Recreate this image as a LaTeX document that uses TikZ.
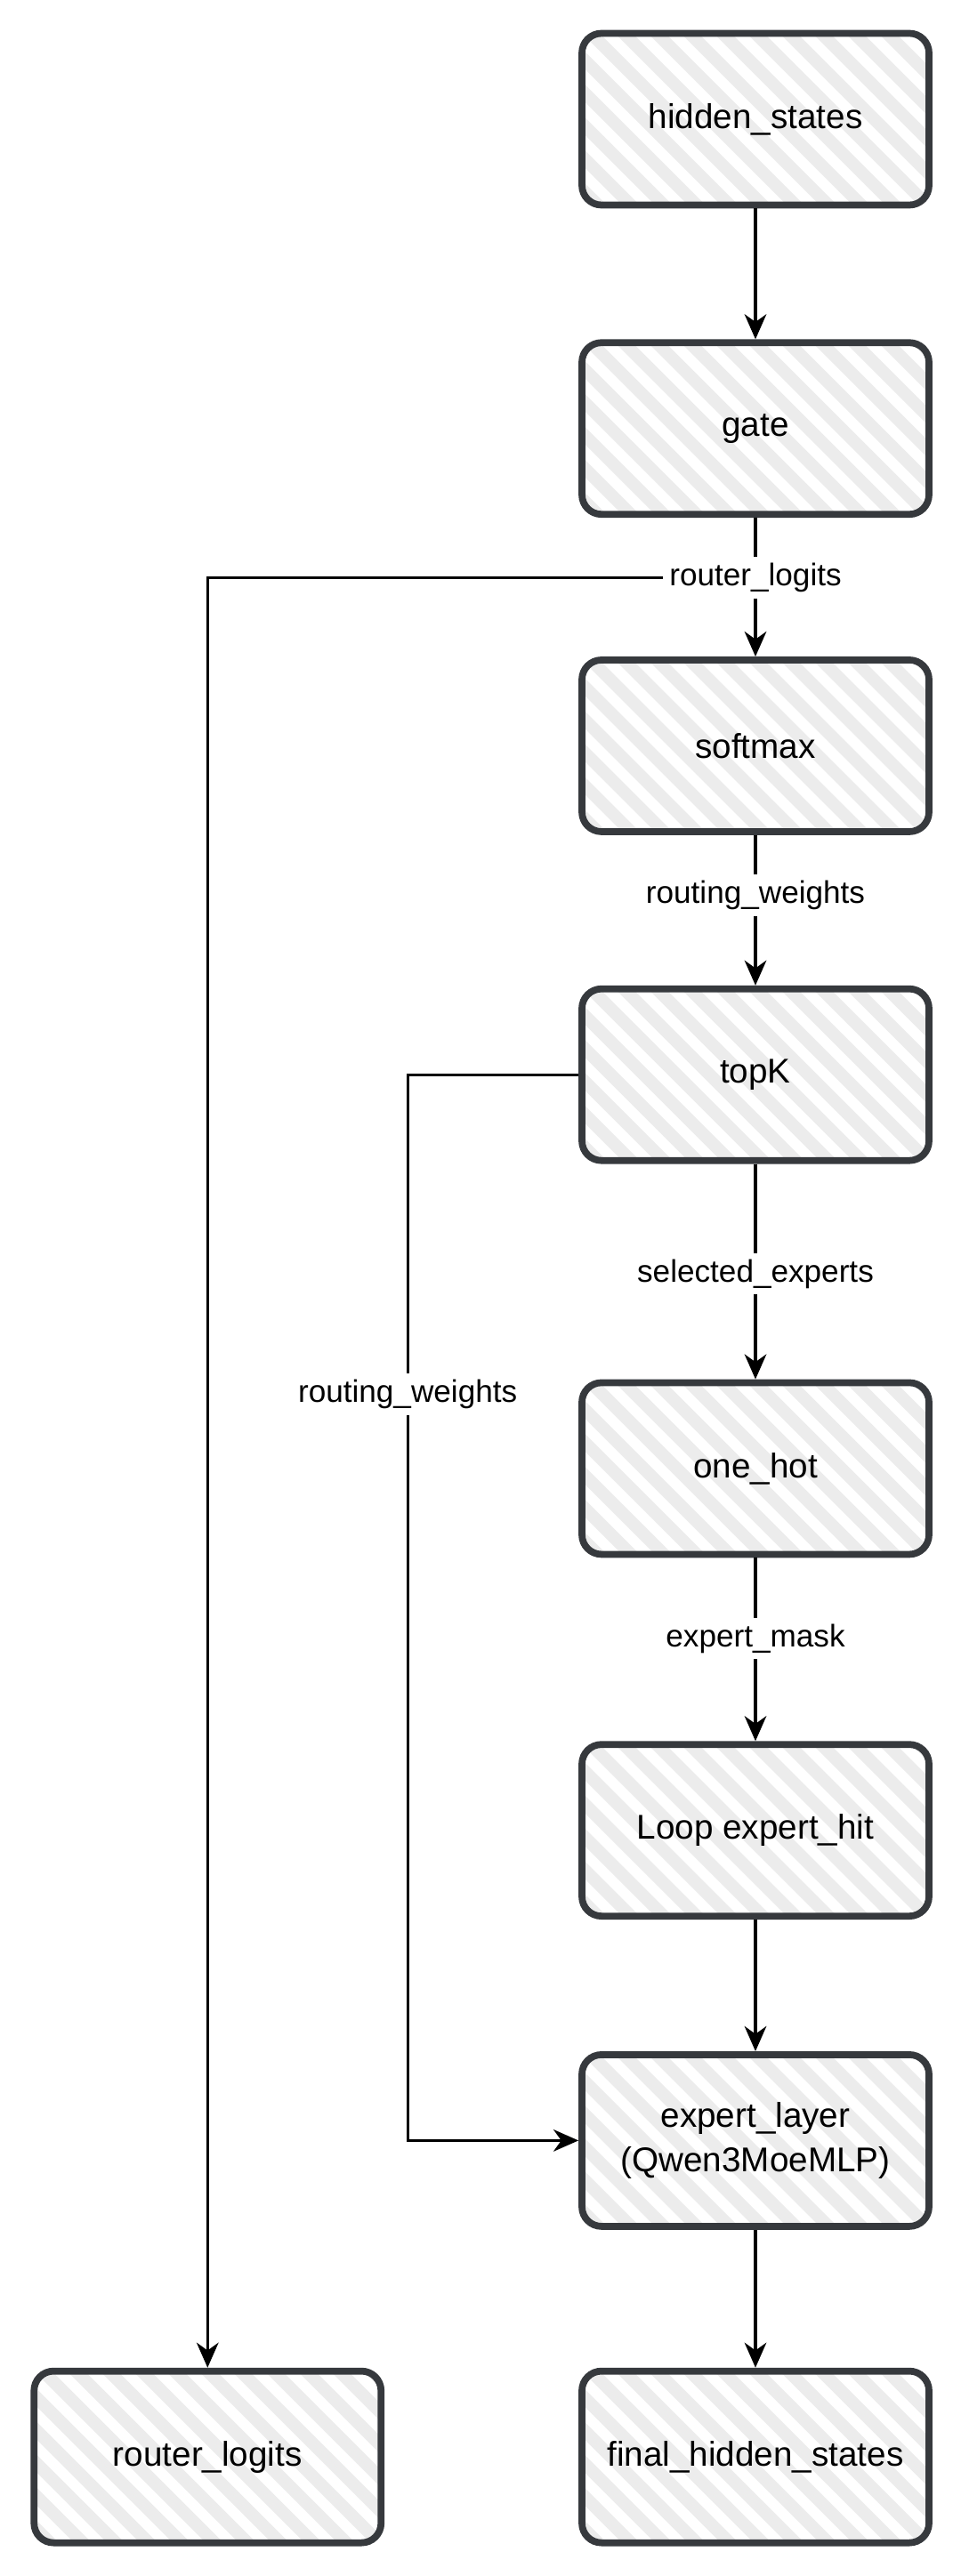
\documentclass[tikz,border=0pt]{standalone}
\usepackage{fontspec}
\setmainfont{Liberation Sans}
\usepackage{tikz}
\usetikzlibrary{arrows.meta,positioning,calc}
\definecolor{boxedge}{RGB}{54,57,61}
\definecolor{hatchgray}{RGB}{236,236,236}

\begin{document}
\begin{tikzpicture}[box/.style={draw=boxedge,line width=2.2pt,rounded corners=0.22cm,align=center,minimum width=3.9cm,minimum height=1.93cm,font=\fontsize{11}{14}\selectfont,path picture={\foreach \k in {-6,...,11}{\draw[hatchgray,line width=4pt] ($(path picture bounding box.north west)+(\k*0.37,0.1)$) -- ++(2.4,-2.4);}}},flow/.style={-{Stealth[length=8pt,width=7pt,inset=2.5pt]},line width=0.9pt},lbl/.style={fill=white,inner sep=2pt,font=\fontsize{10}{12}\selectfont}]
\useasboundingbox (0,0) rectangle (10.8,-28.96);
\node[box] (hidden) at (8.49,-1.34) {hidden\_states};
\node[box,below=1.47cm of hidden] (gate) {gate};
\node[box,below=1.56cm of gate] (softmax) {softmax};
\node[box,below=1.69cm of softmax] (topk) {topK};
\node[box,below=2.42cm of topk] (onehot) {one\_hot};
\node[box,below=2.06cm of onehot] (loop) {Loop expert\_hit};
\node[box,below=1.48cm of loop] (expert) {expert\_layer\\(Qwen3MoeMLP)};
\node[box,below=1.55cm of expert] (final) {final\_hidden\_states};
\node[box,left=2.18cm of final] (rlogits) {router\_logits};
% branch to the router logits output
\coordinate (split) at ($(gate.south)!0.43!(softmax.north)$);
\draw[flow] (split) -| (rlogits.north);
\draw[flow] (hidden) -- (gate);
\draw[flow] (gate) -- (softmax) node[lbl,pos=0.43] {router\_logits};
\draw[flow] (softmax) -- (topk) node[lbl,pos=0.4] {routing\_weights};
\draw[flow] (topk) -- (onehot) node[lbl,pos=0.51] {selected\_experts};
\draw[flow] (onehot) -- (loop) node[lbl,pos=0.44] {expert\_mask};
\draw[flow] (loop) -- (expert);
\draw[flow] (expert) -- (final);
\draw[flow] (topk.west) -- ++(-1.92,0) |- (expert.west) node[lbl,pos=0.15] {routing\_weights};
\end{tikzpicture}
\end{document}
